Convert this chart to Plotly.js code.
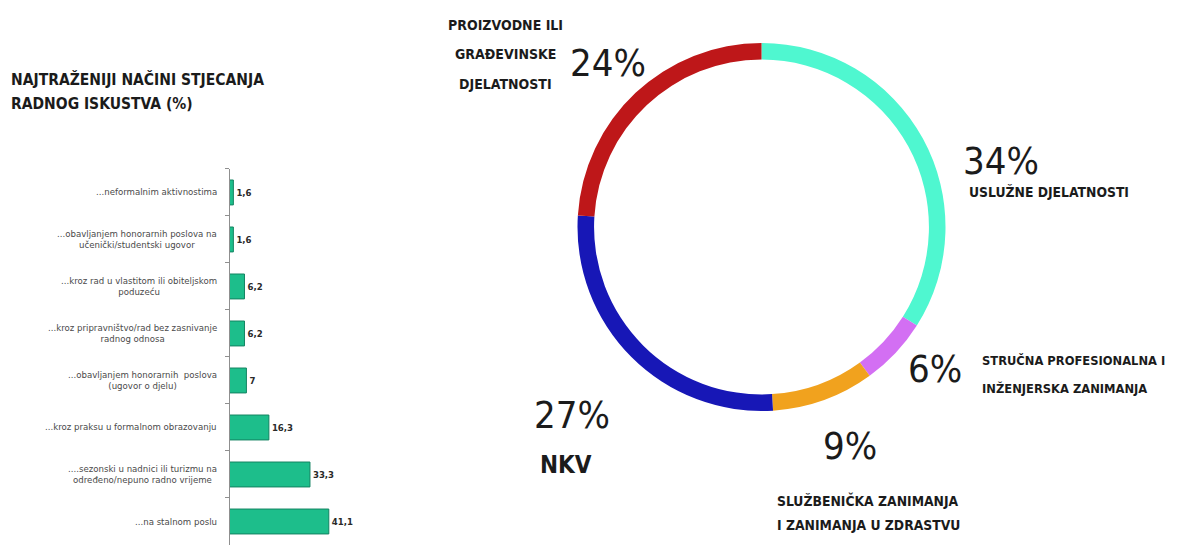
<!DOCTYPE html>
<html>
<head>
<meta charset="utf-8">
<script src="https://cdn.plot.ly/plotly-3.0.1.min.js"></script>
<style>
  html, body { margin: 0; padding: 0; background: #ffffff; }
  #chart { width: 1177px; height: 545px; }
</style>
</head>
<body>
<div id="chart"></div>
<script>
// ---------- DATA ----------
const barTitleLines = ['NAJTRAŽENIJI NAČINI STJECANJA', 'RADNOG ISKUSTVA (%)'];
const barCategories = [
  '...neformalnim aktivnostima',
  '...obavljanjem honorarnih poslova na<br>učenički/studentski ugovor',
  '...kroz rad u vlastitom ili obiteljskom<br>poduzeću',
  '...kroz pripravništvo/rad bez zasnivanje<br>radnog odnosa',
  '...obavljanjem honorarnih  poslova<br>(ugovor o djelu)',
  '...kroz praksu u formalnom obrazovanju',
  '....sezonski u nadnici ili turizmu na<br>određeno/nepuno radno vrijeme',
  '...na stalnom poslu'
];
const barValues = [1.6, 1.6, 6.2, 6.2, 7, 16.3, 33.3, 41.1];

const pieLabels = [
  ['USLUŽNE DJELATNOSTI'],
  ['STRUČNA PROFESIONALNA I', 'INŽENJERSKA ZANIMANJA'],
  ['SLUŽBENIČKA ZANIMANJA', 'I ZANIMANJA U ZDRASTVU'],
  ['NKV'],
  ['PROIZVODNE ILI', 'GRAĐEVINSKE', 'DJELATNOSTI']
];
const pieValues = [34, 6, 9, 27, 24];
const pieColors = ['#4FF7D0', '#D36FF3', '#F1A21E', '#1717B6', '#BE1719'];

// ---------- LAYOUT HELPERS ----------
const W = 1177, H = 545;
const px = x => x / W;
const py = y => 1 - y / H;
const NARROW = 'Liberation Sans Narrow, DejaVu Sans Condensed, Arial Narrow, sans-serif';
const DARK = '#1b1b1b';

const annotations = [];

// left title
const titleY = [79, 104];
barTitleLines.forEach((t, i) => annotations.push({
  xref: 'paper', yref: 'paper', x: px(9), y: py(titleY[i]),
  xanchor: 'left', yanchor: 'middle', showarrow: false,
  text: '<b>' + t + '</b>',
  font: { family: NARROW, size: 15.5, color: DARK }
}));

// bar category labels (centered lines, right edge near axis)
barCategories.forEach(c => annotations.push({
  xref: 'paper', yref: 'y', x: px(219), y: c,
  xanchor: 'right', yanchor: 'middle', align: 'center', showarrow: false,
  text: c,
  font: { family: 'DejaVu Sans, sans-serif', size: 8.6, color: '#4a4a4a' }
}));

// donut labels: placement per slice
const piePctPos = [
  { x: 1001, y: 161, anchor: 'center' },
  { x: 935, y: 369, anchor: 'center' },
  { x: 850, y: 446, anchor: 'center' },
  { x: 572, y: 415, anchor: 'center' },
  { x: 608, y: 63, anchor: 'center' }
];
const pieLabelPos = [
  { x: 967, ys: [192], anchor: 'left', size: 13.8 },
  { x: 980, ys: [360, 388], anchor: 'left', size: 12.8 },
  { x: 868, ys: [500, 525], anchor: 'center', size: 13.8 },
  { x: 538, ys: [465], anchor: 'left', size: 24 },
  { x: 505, ys: [25, 54, 84], anchor: 'center', size: 14 }
];
pieValues.forEach((v, i) => {
  const p = piePctPos[i];
  annotations.push({
    xref: 'paper', yref: 'paper', x: px(p.x), y: py(p.y),
    xanchor: p.anchor, yanchor: 'middle', showarrow: false,
    text: v + '%',
    font: { family: NARROW, size: 38, color: DARK }
  });
  const l = pieLabelPos[i];
  pieLabels[i].forEach((t, j) => annotations.push({
    xref: 'paper', yref: 'paper', x: px(l.x), y: py(l.ys[j]),
    xanchor: l.anchor, yanchor: 'middle', showarrow: false,
    text: '<b>' + t + '</b>',
    font: { family: NARROW, size: l.size, color: DARK }
  }));
});

// ---------- TRACES ----------
const barTrace = {
  type: 'bar', orientation: 'h',
  x: barValues, y: barCategories,
  xaxis: 'x', yaxis: 'y',
  width: 0.53,
  marker: { color: '#1DBE8B', line: { color: '#138361', width: 1 } },
  text: barValues.map(v => '<b>' + String(v).replace('.', ',') + '</b>'),
  textposition: 'outside', constraintext: 'none', cliponaxis: false,
  textfont: { family: 'DejaVu Sans Condensed, DejaVu Sans, sans-serif', size: 9.5, color: '#2a2a2a' },
  hoverinfo: 'none', showlegend: false
};

const pieTrace = {
  type: 'pie',
  values: pieValues,
  labels: pieLabels.map(l => l.join(' ')),
  marker: { colors: pieColors, line: { width: 0 } },
  hole: 0.91, sort: false, direction: 'clockwise', rotation: 0,
  textinfo: 'none', hoverinfo: 'none', showlegend: false,
  domain: { x: [px(575), px(948)], y: [py(411), py(43)] }
};

const layout = {
  width: W, height: H,
  margin: { l: 0, r: 0, t: 0, b: 0 },
  paper_bgcolor: '#ffffff', plot_bgcolor: 'rgba(0,0,0,0)',
  showlegend: false,
  bargap: 0.47,
  xaxis: {
    domain: [px(229.5), px(345)], range: [0, 47.8],
    visible: false, fixedrange: true
  },
  yaxis: {
    domain: [0, 0.69], autorange: 'reversed', type: 'category',
    showline: true, linecolor: '#8f8f8f', linewidth: 1,
    ticks: 'outside', ticklen: 4, tickcolor: '#8f8f8f', tickson: 'boundaries',
    showticklabels: false, showgrid: false, zeroline: false, fixedrange: true
  },
  annotations: annotations
};

Plotly.newPlot('chart', [barTrace, pieTrace], layout, { staticPlot: true, displayModeBar: false });
</script>
</body>
</html>
